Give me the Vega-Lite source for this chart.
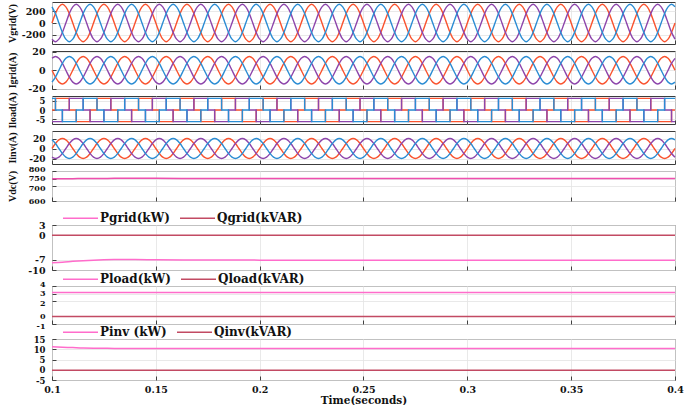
{
"$schema":"https://vega.github.io/schema/vega-lite/v6.json",
"padding":{"left":6,"top":1,"right":0,"bottom":0},
"background":"white",
"bounds":"flush",
"spacing":7,
"resolve":{"scale":{"x":"independent","y":"independent","color":"independent"}},
"config":{
 "view":{"stroke":"#3c3c3c","strokeWidth":1},
 "axis":{"labelFont":"DejaVu Serif","labelFontWeight":"bold","labelFontSize":9.5,"labelColor":"#111111","titleFont":"Liberation Serif","titleFontWeight":"bold","titleFontSize":10,"titleColor":"#111111","domain":false,"grid":true,"gridColor":"#e3e3e3","gridWidth":0.8,"ticks":true,"tickColor":"#404040","tickSize":-4,"tickWidth":1,"labelOverlap":false,"labelFlush":false,"labelPadding":11},
 "axisY":{"minExtent":34,"maxExtent":34,"titlePadding":1},
 "legend":{"orient":"none","legendX":10,"legendY":-25.5,"direction":"horizontal","symbolType":"stroke","symbolSize":1225,"symbolStrokeWidth":1.6,"labelFont":"DejaVu Serif","labelFontWeight":"bold","labelFontSize":12,"labelColor":"#111111","labelOffset":1,"columnPadding":6,"padding":0},
 "locale":{"number":{"decimal":".","thousands":",","grouping":[3],"currency":["$",""],"minus":"-"}}
},
"datasets":{
"wave":[
{"t":0.1,"va":0,"vb":-281,"vc":281,"ga":0,"gb":13,"gc":-13,"la":0,"lb":-6.3,"lc":6.3,"ia":0,"ib":-17.3,"ic":17.3},
{"t":0.10167,"va":163,"vb":-325,"vc":163,"ga":-7.5,"gb":15,"gc":-7.5,"la":6.3,"lb":-6.3,"lc":0,"ia":10,"ib":-20,"ic":10},
{"t":0.10333,"va":281,"vb":-281,"vc":0,"ga":-13,"gb":13,"gc":0,"la":6.3,"lb":-6.3,"lc":0,"ia":17.3,"ib":-17.3,"ic":0},
{"t":0.105,"va":325,"vb":-163,"vc":-163,"ga":-15,"gb":7.5,"gc":7.5,"la":6.3,"lb":0,"lc":-6.3,"ia":20,"ib":-10,"ic":-10},
{"t":0.10667,"va":281,"vb":0,"vc":-281,"ga":-13,"gb":0,"gc":13,"la":6.3,"lb":0,"lc":-6.3,"ia":17.3,"ib":0,"ic":-17.3},
{"t":0.10833,"va":163,"vb":163,"vc":-325,"ga":-7.5,"gb":-7.5,"gc":15,"la":0,"lb":6.3,"lc":-6.3,"ia":10,"ib":10,"ic":-20},
{"t":0.11,"va":0,"vb":281,"vc":-281,"ga":0,"gb":-13,"gc":13,"la":0,"lb":6.3,"lc":-6.3,"ia":0,"ib":17.3,"ic":-17.3},
{"t":0.11167,"va":-163,"vb":325,"vc":-163,"ga":7.5,"gb":-15,"gc":7.5,"la":-6.3,"lb":6.3,"lc":0,"ia":-10,"ib":20,"ic":-10},
{"t":0.11333,"va":-281,"vb":281,"vc":0,"ga":13,"gb":-13,"gc":0,"la":-6.3,"lb":6.3,"lc":0,"ia":-17.3,"ib":17.3,"ic":0},
{"t":0.115,"va":-325,"vb":163,"vc":163,"ga":15,"gb":-7.5,"gc":-7.5,"la":-6.3,"lb":0,"lc":6.3,"ia":-20,"ib":10,"ic":10},
{"t":0.11667,"va":-281,"vb":0,"vc":281,"ga":13,"gb":0,"gc":-13,"la":-6.3,"lb":0,"lc":6.3,"ia":-17.3,"ib":0,"ic":17.3},
{"t":0.11833,"va":-163,"vb":-163,"vc":325,"ga":7.5,"gb":7.5,"gc":-15,"la":0,"lb":-6.3,"lc":6.3,"ia":-10,"ib":-10,"ic":20},
{"t":0.12,"va":0,"vb":-281,"vc":281,"ga":0,"gb":13,"gc":-13,"la":0,"lb":-6.3,"lc":6.3,"ia":0,"ib":-17.3,"ic":17.3},
{"t":0.12167,"va":163,"vb":-325,"vc":163,"ga":-7.5,"gb":15,"gc":-7.5,"la":6.3,"lb":-6.3,"lc":0,"ia":10,"ib":-20,"ic":10},
{"t":0.12333,"va":281,"vb":-281,"vc":0,"ga":-13,"gb":13,"gc":0,"la":6.3,"lb":-6.3,"lc":0,"ia":17.3,"ib":-17.3,"ic":0},
{"t":0.125,"va":325,"vb":-163,"vc":-163,"ga":-15,"gb":7.5,"gc":7.5,"la":6.3,"lb":0,"lc":-6.3,"ia":20,"ib":-10,"ic":-10},
{"t":0.12667,"va":281,"vb":0,"vc":-281,"ga":-13,"gb":0,"gc":13,"la":6.3,"lb":0,"lc":-6.3,"ia":17.3,"ib":0,"ic":-17.3},
{"t":0.12833,"va":163,"vb":163,"vc":-325,"ga":-7.5,"gb":-7.5,"gc":15,"la":0,"lb":6.3,"lc":-6.3,"ia":10,"ib":10,"ic":-20},
{"t":0.13,"va":0,"vb":281,"vc":-281,"ga":0,"gb":-13,"gc":13,"la":0,"lb":6.3,"lc":-6.3,"ia":0,"ib":17.3,"ic":-17.3},
{"t":0.13167,"va":-163,"vb":325,"vc":-163,"ga":7.5,"gb":-15,"gc":7.5,"la":-6.3,"lb":6.3,"lc":0,"ia":-10,"ib":20,"ic":-10},
{"t":0.13333,"va":-281,"vb":281,"vc":0,"ga":13,"gb":-13,"gc":0,"la":-6.3,"lb":6.3,"lc":0,"ia":-17.3,"ib":17.3,"ic":0},
{"t":0.135,"va":-325,"vb":163,"vc":163,"ga":15,"gb":-7.5,"gc":-7.5,"la":-6.3,"lb":0,"lc":6.3,"ia":-20,"ib":10,"ic":10},
{"t":0.13667,"va":-281,"vb":0,"vc":281,"ga":13,"gb":0,"gc":-13,"la":-6.3,"lb":0,"lc":6.3,"ia":-17.3,"ib":0,"ic":17.3},
{"t":0.13833,"va":-163,"vb":-163,"vc":325,"ga":7.5,"gb":7.5,"gc":-15,"la":0,"lb":-6.3,"lc":6.3,"ia":-10,"ib":-10,"ic":20},
{"t":0.14,"va":0,"vb":-281,"vc":281,"ga":0,"gb":13,"gc":-13,"la":0,"lb":-6.3,"lc":6.3,"ia":0,"ib":-17.3,"ic":17.3},
{"t":0.14167,"va":163,"vb":-325,"vc":163,"ga":-7.5,"gb":15,"gc":-7.5,"la":6.3,"lb":-6.3,"lc":0,"ia":10,"ib":-20,"ic":10},
{"t":0.14333,"va":281,"vb":-281,"vc":0,"ga":-13,"gb":13,"gc":0,"la":6.3,"lb":-6.3,"lc":0,"ia":17.3,"ib":-17.3,"ic":0},
{"t":0.145,"va":325,"vb":-163,"vc":-163,"ga":-15,"gb":7.5,"gc":7.5,"la":6.3,"lb":0,"lc":-6.3,"ia":20,"ib":-10,"ic":-10},
{"t":0.14667,"va":281,"vb":0,"vc":-281,"ga":-13,"gb":0,"gc":13,"la":6.3,"lb":0,"lc":-6.3,"ia":17.3,"ib":0,"ic":-17.3},
{"t":0.14833,"va":163,"vb":163,"vc":-325,"ga":-7.5,"gb":-7.5,"gc":15,"la":0,"lb":6.3,"lc":-6.3,"ia":10,"ib":10,"ic":-20},
{"t":0.15,"va":0,"vb":281,"vc":-281,"ga":0,"gb":-13,"gc":13,"la":0,"lb":6.3,"lc":-6.3,"ia":0,"ib":17.3,"ic":-17.3},
{"t":0.15167,"va":-163,"vb":325,"vc":-163,"ga":7.5,"gb":-15,"gc":7.5,"la":-6.3,"lb":6.3,"lc":0,"ia":-10,"ib":20,"ic":-10},
{"t":0.15333,"va":-281,"vb":281,"vc":0,"ga":13,"gb":-13,"gc":0,"la":-6.3,"lb":6.3,"lc":0,"ia":-17.3,"ib":17.3,"ic":0},
{"t":0.155,"va":-325,"vb":163,"vc":163,"ga":15,"gb":-7.5,"gc":-7.5,"la":-6.3,"lb":0,"lc":6.3,"ia":-20,"ib":10,"ic":10},
{"t":0.15667,"va":-281,"vb":0,"vc":281,"ga":13,"gb":0,"gc":-13,"la":-6.3,"lb":0,"lc":6.3,"ia":-17.3,"ib":0,"ic":17.3},
{"t":0.15833,"va":-163,"vb":-163,"vc":325,"ga":7.5,"gb":7.5,"gc":-15,"la":0,"lb":-6.3,"lc":6.3,"ia":-10,"ib":-10,"ic":20},
{"t":0.16,"va":0,"vb":-281,"vc":281,"ga":0,"gb":13,"gc":-13,"la":0,"lb":-6.3,"lc":6.3,"ia":0,"ib":-17.3,"ic":17.3},
{"t":0.16167,"va":163,"vb":-325,"vc":163,"ga":-7.5,"gb":15,"gc":-7.5,"la":6.3,"lb":-6.3,"lc":0,"ia":10,"ib":-20,"ic":10},
{"t":0.16333,"va":281,"vb":-281,"vc":0,"ga":-13,"gb":13,"gc":0,"la":6.3,"lb":-6.3,"lc":0,"ia":17.3,"ib":-17.3,"ic":0},
{"t":0.165,"va":325,"vb":-163,"vc":-163,"ga":-15,"gb":7.5,"gc":7.5,"la":6.3,"lb":0,"lc":-6.3,"ia":20,"ib":-10,"ic":-10},
{"t":0.16667,"va":281,"vb":0,"vc":-281,"ga":-13,"gb":0,"gc":13,"la":6.3,"lb":0,"lc":-6.3,"ia":17.3,"ib":0,"ic":-17.3},
{"t":0.16833,"va":163,"vb":163,"vc":-325,"ga":-7.5,"gb":-7.5,"gc":15,"la":0,"lb":6.3,"lc":-6.3,"ia":10,"ib":10,"ic":-20},
{"t":0.17,"va":0,"vb":281,"vc":-281,"ga":0,"gb":-13,"gc":13,"la":0,"lb":6.3,"lc":-6.3,"ia":0,"ib":17.3,"ic":-17.3},
{"t":0.17167,"va":-163,"vb":325,"vc":-163,"ga":7.5,"gb":-15,"gc":7.5,"la":-6.3,"lb":6.3,"lc":0,"ia":-10,"ib":20,"ic":-10},
{"t":0.17333,"va":-281,"vb":281,"vc":0,"ga":13,"gb":-13,"gc":0,"la":-6.3,"lb":6.3,"lc":0,"ia":-17.3,"ib":17.3,"ic":0},
{"t":0.175,"va":-325,"vb":163,"vc":163,"ga":15,"gb":-7.5,"gc":-7.5,"la":-6.3,"lb":0,"lc":6.3,"ia":-20,"ib":10,"ic":10},
{"t":0.17667,"va":-281,"vb":0,"vc":281,"ga":13,"gb":0,"gc":-13,"la":-6.3,"lb":0,"lc":6.3,"ia":-17.3,"ib":0,"ic":17.3},
{"t":0.17833,"va":-163,"vb":-163,"vc":325,"ga":7.5,"gb":7.5,"gc":-15,"la":0,"lb":-6.3,"lc":6.3,"ia":-10,"ib":-10,"ic":20},
{"t":0.18,"va":0,"vb":-281,"vc":281,"ga":0,"gb":13,"gc":-13,"la":0,"lb":-6.3,"lc":6.3,"ia":0,"ib":-17.3,"ic":17.3},
{"t":0.18167,"va":163,"vb":-325,"vc":163,"ga":-7.5,"gb":15,"gc":-7.5,"la":6.3,"lb":-6.3,"lc":0,"ia":10,"ib":-20,"ic":10},
{"t":0.18333,"va":281,"vb":-281,"vc":0,"ga":-13,"gb":13,"gc":0,"la":6.3,"lb":-6.3,"lc":0,"ia":17.3,"ib":-17.3,"ic":0},
{"t":0.185,"va":325,"vb":-163,"vc":-163,"ga":-15,"gb":7.5,"gc":7.5,"la":6.3,"lb":0,"lc":-6.3,"ia":20,"ib":-10,"ic":-10},
{"t":0.18667,"va":281,"vb":0,"vc":-281,"ga":-13,"gb":0,"gc":13,"la":6.3,"lb":0,"lc":-6.3,"ia":17.3,"ib":0,"ic":-17.3},
{"t":0.18833,"va":163,"vb":163,"vc":-325,"ga":-7.5,"gb":-7.5,"gc":15,"la":0,"lb":6.3,"lc":-6.3,"ia":10,"ib":10,"ic":-20},
{"t":0.19,"va":0,"vb":281,"vc":-281,"ga":0,"gb":-13,"gc":13,"la":0,"lb":6.3,"lc":-6.3,"ia":0,"ib":17.3,"ic":-17.3},
{"t":0.19167,"va":-163,"vb":325,"vc":-163,"ga":7.5,"gb":-15,"gc":7.5,"la":-6.3,"lb":6.3,"lc":0,"ia":-10,"ib":20,"ic":-10},
{"t":0.19333,"va":-281,"vb":281,"vc":0,"ga":13,"gb":-13,"gc":0,"la":-6.3,"lb":6.3,"lc":0,"ia":-17.3,"ib":17.3,"ic":0},
{"t":0.195,"va":-325,"vb":163,"vc":163,"ga":15,"gb":-7.5,"gc":-7.5,"la":-6.3,"lb":0,"lc":6.3,"ia":-20,"ib":10,"ic":10},
{"t":0.19667,"va":-281,"vb":0,"vc":281,"ga":13,"gb":0,"gc":-13,"la":-6.3,"lb":0,"lc":6.3,"ia":-17.3,"ib":0,"ic":17.3},
{"t":0.19833,"va":-163,"vb":-163,"vc":325,"ga":7.5,"gb":7.5,"gc":-15,"la":0,"lb":-6.3,"lc":6.3,"ia":-10,"ib":-10,"ic":20},
{"t":0.2,"va":0,"vb":-281,"vc":281,"ga":0,"gb":13,"gc":-13,"la":0,"lb":-6.3,"lc":6.3,"ia":0,"ib":-17.3,"ic":17.3},
{"t":0.20167,"va":163,"vb":-325,"vc":163,"ga":-7.5,"gb":15,"gc":-7.5,"la":6.3,"lb":-6.3,"lc":0,"ia":10,"ib":-20,"ic":10},
{"t":0.20333,"va":281,"vb":-281,"vc":0,"ga":-13,"gb":13,"gc":0,"la":6.3,"lb":-6.3,"lc":0,"ia":17.3,"ib":-17.3,"ic":0},
{"t":0.205,"va":325,"vb":-163,"vc":-163,"ga":-15,"gb":7.5,"gc":7.5,"la":6.3,"lb":0,"lc":-6.3,"ia":20,"ib":-10,"ic":-10},
{"t":0.20667,"va":281,"vb":0,"vc":-281,"ga":-13,"gb":0,"gc":13,"la":6.3,"lb":0,"lc":-6.3,"ia":17.3,"ib":0,"ic":-17.3},
{"t":0.20833,"va":163,"vb":163,"vc":-325,"ga":-7.5,"gb":-7.5,"gc":15,"la":0,"lb":6.3,"lc":-6.3,"ia":10,"ib":10,"ic":-20},
{"t":0.21,"va":0,"vb":281,"vc":-281,"ga":0,"gb":-13,"gc":13,"la":0,"lb":6.3,"lc":-6.3,"ia":0,"ib":17.3,"ic":-17.3},
{"t":0.21167,"va":-163,"vb":325,"vc":-163,"ga":7.5,"gb":-15,"gc":7.5,"la":-6.3,"lb":6.3,"lc":0,"ia":-10,"ib":20,"ic":-10},
{"t":0.21333,"va":-281,"vb":281,"vc":0,"ga":13,"gb":-13,"gc":0,"la":-6.3,"lb":6.3,"lc":0,"ia":-17.3,"ib":17.3,"ic":0},
{"t":0.215,"va":-325,"vb":163,"vc":163,"ga":15,"gb":-7.5,"gc":-7.5,"la":-6.3,"lb":0,"lc":6.3,"ia":-20,"ib":10,"ic":10},
{"t":0.21667,"va":-281,"vb":0,"vc":281,"ga":13,"gb":0,"gc":-13,"la":-6.3,"lb":0,"lc":6.3,"ia":-17.3,"ib":0,"ic":17.3},
{"t":0.21833,"va":-163,"vb":-163,"vc":325,"ga":7.5,"gb":7.5,"gc":-15,"la":0,"lb":-6.3,"lc":6.3,"ia":-10,"ib":-10,"ic":20},
{"t":0.22,"va":0,"vb":-281,"vc":281,"ga":0,"gb":13,"gc":-13,"la":0,"lb":-6.3,"lc":6.3,"ia":0,"ib":-17.3,"ic":17.3},
{"t":0.22167,"va":163,"vb":-325,"vc":163,"ga":-7.5,"gb":15,"gc":-7.5,"la":6.3,"lb":-6.3,"lc":0,"ia":10,"ib":-20,"ic":10},
{"t":0.22333,"va":281,"vb":-281,"vc":0,"ga":-13,"gb":13,"gc":0,"la":6.3,"lb":-6.3,"lc":0,"ia":17.3,"ib":-17.3,"ic":0},
{"t":0.225,"va":325,"vb":-163,"vc":-163,"ga":-15,"gb":7.5,"gc":7.5,"la":6.3,"lb":0,"lc":-6.3,"ia":20,"ib":-10,"ic":-10},
{"t":0.22667,"va":281,"vb":0,"vc":-281,"ga":-13,"gb":0,"gc":13,"la":6.3,"lb":0,"lc":-6.3,"ia":17.3,"ib":0,"ic":-17.3},
{"t":0.22833,"va":163,"vb":163,"vc":-325,"ga":-7.5,"gb":-7.5,"gc":15,"la":0,"lb":6.3,"lc":-6.3,"ia":10,"ib":10,"ic":-20},
{"t":0.23,"va":0,"vb":281,"vc":-281,"ga":0,"gb":-13,"gc":13,"la":0,"lb":6.3,"lc":-6.3,"ia":0,"ib":17.3,"ic":-17.3},
{"t":0.23167,"va":-163,"vb":325,"vc":-163,"ga":7.5,"gb":-15,"gc":7.5,"la":-6.3,"lb":6.3,"lc":0,"ia":-10,"ib":20,"ic":-10},
{"t":0.23333,"va":-281,"vb":281,"vc":0,"ga":13,"gb":-13,"gc":0,"la":-6.3,"lb":6.3,"lc":0,"ia":-17.3,"ib":17.3,"ic":0},
{"t":0.235,"va":-325,"vb":163,"vc":163,"ga":15,"gb":-7.5,"gc":-7.5,"la":-6.3,"lb":0,"lc":6.3,"ia":-20,"ib":10,"ic":10},
{"t":0.23667,"va":-281,"vb":0,"vc":281,"ga":13,"gb":0,"gc":-13,"la":-6.3,"lb":0,"lc":6.3,"ia":-17.3,"ib":0,"ic":17.3},
{"t":0.23833,"va":-163,"vb":-163,"vc":325,"ga":7.5,"gb":7.5,"gc":-15,"la":0,"lb":-6.3,"lc":6.3,"ia":-10,"ib":-10,"ic":20},
{"t":0.24,"va":0,"vb":-281,"vc":281,"ga":0,"gb":13,"gc":-13,"la":0,"lb":-6.3,"lc":6.3,"ia":0,"ib":-17.3,"ic":17.3},
{"t":0.24167,"va":163,"vb":-325,"vc":163,"ga":-7.5,"gb":15,"gc":-7.5,"la":6.3,"lb":-6.3,"lc":0,"ia":10,"ib":-20,"ic":10},
{"t":0.24333,"va":281,"vb":-281,"vc":0,"ga":-13,"gb":13,"gc":0,"la":6.3,"lb":-6.3,"lc":0,"ia":17.3,"ib":-17.3,"ic":0},
{"t":0.245,"va":325,"vb":-163,"vc":-163,"ga":-15,"gb":7.5,"gc":7.5,"la":6.3,"lb":0,"lc":-6.3,"ia":20,"ib":-10,"ic":-10},
{"t":0.24667,"va":281,"vb":0,"vc":-281,"ga":-13,"gb":0,"gc":13,"la":6.3,"lb":0,"lc":-6.3,"ia":17.3,"ib":0,"ic":-17.3},
{"t":0.24833,"va":163,"vb":163,"vc":-325,"ga":-7.5,"gb":-7.5,"gc":15,"la":0,"lb":6.3,"lc":-6.3,"ia":10,"ib":10,"ic":-20},
{"t":0.25,"va":0,"vb":281,"vc":-281,"ga":0,"gb":-13,"gc":13,"la":0,"lb":6.3,"lc":-6.3,"ia":0,"ib":17.3,"ic":-17.3},
{"t":0.25167,"va":-163,"vb":325,"vc":-163,"ga":7.5,"gb":-15,"gc":7.5,"la":-6.3,"lb":6.3,"lc":0,"ia":-10,"ib":20,"ic":-10},
{"t":0.25333,"va":-281,"vb":281,"vc":0,"ga":13,"gb":-13,"gc":0,"la":-6.3,"lb":6.3,"lc":0,"ia":-17.3,"ib":17.3,"ic":0},
{"t":0.255,"va":-325,"vb":163,"vc":163,"ga":15,"gb":-7.5,"gc":-7.5,"la":-6.3,"lb":0,"lc":6.3,"ia":-20,"ib":10,"ic":10},
{"t":0.25667,"va":-281,"vb":0,"vc":281,"ga":13,"gb":0,"gc":-13,"la":-6.3,"lb":0,"lc":6.3,"ia":-17.3,"ib":0,"ic":17.3},
{"t":0.25833,"va":-163,"vb":-163,"vc":325,"ga":7.5,"gb":7.5,"gc":-15,"la":0,"lb":-6.3,"lc":6.3,"ia":-10,"ib":-10,"ic":20},
{"t":0.26,"va":0,"vb":-281,"vc":281,"ga":0,"gb":13,"gc":-13,"la":0,"lb":-6.3,"lc":6.3,"ia":0,"ib":-17.3,"ic":17.3},
{"t":0.26167,"va":163,"vb":-325,"vc":163,"ga":-7.5,"gb":15,"gc":-7.5,"la":6.3,"lb":-6.3,"lc":0,"ia":10,"ib":-20,"ic":10},
{"t":0.26333,"va":281,"vb":-281,"vc":0,"ga":-13,"gb":13,"gc":0,"la":6.3,"lb":-6.3,"lc":0,"ia":17.3,"ib":-17.3,"ic":0},
{"t":0.265,"va":325,"vb":-163,"vc":-163,"ga":-15,"gb":7.5,"gc":7.5,"la":6.3,"lb":0,"lc":-6.3,"ia":20,"ib":-10,"ic":-10},
{"t":0.26667,"va":281,"vb":0,"vc":-281,"ga":-13,"gb":0,"gc":13,"la":6.3,"lb":0,"lc":-6.3,"ia":17.3,"ib":0,"ic":-17.3},
{"t":0.26833,"va":163,"vb":163,"vc":-325,"ga":-7.5,"gb":-7.5,"gc":15,"la":0,"lb":6.3,"lc":-6.3,"ia":10,"ib":10,"ic":-20},
{"t":0.27,"va":0,"vb":281,"vc":-281,"ga":0,"gb":-13,"gc":13,"la":0,"lb":6.3,"lc":-6.3,"ia":0,"ib":17.3,"ic":-17.3},
{"t":0.27167,"va":-163,"vb":325,"vc":-163,"ga":7.5,"gb":-15,"gc":7.5,"la":-6.3,"lb":6.3,"lc":0,"ia":-10,"ib":20,"ic":-10},
{"t":0.27333,"va":-281,"vb":281,"vc":0,"ga":13,"gb":-13,"gc":0,"la":-6.3,"lb":6.3,"lc":0,"ia":-17.3,"ib":17.3,"ic":0},
{"t":0.275,"va":-325,"vb":163,"vc":163,"ga":15,"gb":-7.5,"gc":-7.5,"la":-6.3,"lb":0,"lc":6.3,"ia":-20,"ib":10,"ic":10},
{"t":0.27667,"va":-281,"vb":0,"vc":281,"ga":13,"gb":0,"gc":-13,"la":-6.3,"lb":0,"lc":6.3,"ia":-17.3,"ib":0,"ic":17.3},
{"t":0.27833,"va":-163,"vb":-163,"vc":325,"ga":7.5,"gb":7.5,"gc":-15,"la":0,"lb":-6.3,"lc":6.3,"ia":-10,"ib":-10,"ic":20},
{"t":0.28,"va":0,"vb":-281,"vc":281,"ga":0,"gb":13,"gc":-13,"la":0,"lb":-6.3,"lc":6.3,"ia":0,"ib":-17.3,"ic":17.3},
{"t":0.28167,"va":163,"vb":-325,"vc":163,"ga":-7.5,"gb":15,"gc":-7.5,"la":6.3,"lb":-6.3,"lc":0,"ia":10,"ib":-20,"ic":10},
{"t":0.28333,"va":281,"vb":-281,"vc":0,"ga":-13,"gb":13,"gc":0,"la":6.3,"lb":-6.3,"lc":0,"ia":17.3,"ib":-17.3,"ic":0},
{"t":0.285,"va":325,"vb":-163,"vc":-163,"ga":-15,"gb":7.5,"gc":7.5,"la":6.3,"lb":0,"lc":-6.3,"ia":20,"ib":-10,"ic":-10},
{"t":0.28667,"va":281,"vb":0,"vc":-281,"ga":-13,"gb":0,"gc":13,"la":6.3,"lb":0,"lc":-6.3,"ia":17.3,"ib":0,"ic":-17.3},
{"t":0.28833,"va":163,"vb":163,"vc":-325,"ga":-7.5,"gb":-7.5,"gc":15,"la":0,"lb":6.3,"lc":-6.3,"ia":10,"ib":10,"ic":-20},
{"t":0.29,"va":0,"vb":281,"vc":-281,"ga":0,"gb":-13,"gc":13,"la":0,"lb":6.3,"lc":-6.3,"ia":0,"ib":17.3,"ic":-17.3},
{"t":0.29167,"va":-163,"vb":325,"vc":-163,"ga":7.5,"gb":-15,"gc":7.5,"la":-6.3,"lb":6.3,"lc":0,"ia":-10,"ib":20,"ic":-10},
{"t":0.29333,"va":-281,"vb":281,"vc":0,"ga":13,"gb":-13,"gc":0,"la":-6.3,"lb":6.3,"lc":0,"ia":-17.3,"ib":17.3,"ic":0},
{"t":0.295,"va":-325,"vb":163,"vc":163,"ga":15,"gb":-7.5,"gc":-7.5,"la":-6.3,"lb":0,"lc":6.3,"ia":-20,"ib":10,"ic":10},
{"t":0.29667,"va":-281,"vb":0,"vc":281,"ga":13,"gb":0,"gc":-13,"la":-6.3,"lb":0,"lc":6.3,"ia":-17.3,"ib":0,"ic":17.3},
{"t":0.29833,"va":-163,"vb":-163,"vc":325,"ga":7.5,"gb":7.5,"gc":-15,"la":0,"lb":-6.3,"lc":6.3,"ia":-10,"ib":-10,"ic":20},
{"t":0.3,"va":0,"vb":-281,"vc":281,"ga":0,"gb":13,"gc":-13,"la":0,"lb":-6.3,"lc":6.3,"ia":0,"ib":-17.3,"ic":17.3},
{"t":0.30167,"va":163,"vb":-325,"vc":163,"ga":-7.5,"gb":15,"gc":-7.5,"la":6.3,"lb":-6.3,"lc":0,"ia":10,"ib":-20,"ic":10},
{"t":0.30333,"va":281,"vb":-281,"vc":0,"ga":-13,"gb":13,"gc":0,"la":6.3,"lb":-6.3,"lc":0,"ia":17.3,"ib":-17.3,"ic":0},
{"t":0.305,"va":325,"vb":-163,"vc":-163,"ga":-15,"gb":7.5,"gc":7.5,"la":6.3,"lb":0,"lc":-6.3,"ia":20,"ib":-10,"ic":-10},
{"t":0.30667,"va":281,"vb":0,"vc":-281,"ga":-13,"gb":0,"gc":13,"la":6.3,"lb":0,"lc":-6.3,"ia":17.3,"ib":0,"ic":-17.3},
{"t":0.30833,"va":163,"vb":163,"vc":-325,"ga":-7.5,"gb":-7.5,"gc":15,"la":0,"lb":6.3,"lc":-6.3,"ia":10,"ib":10,"ic":-20},
{"t":0.31,"va":0,"vb":281,"vc":-281,"ga":0,"gb":-13,"gc":13,"la":0,"lb":6.3,"lc":-6.3,"ia":0,"ib":17.3,"ic":-17.3},
{"t":0.31167,"va":-163,"vb":325,"vc":-163,"ga":7.5,"gb":-15,"gc":7.5,"la":-6.3,"lb":6.3,"lc":0,"ia":-10,"ib":20,"ic":-10},
{"t":0.31333,"va":-281,"vb":281,"vc":0,"ga":13,"gb":-13,"gc":0,"la":-6.3,"lb":6.3,"lc":0,"ia":-17.3,"ib":17.3,"ic":0},
{"t":0.315,"va":-325,"vb":163,"vc":163,"ga":15,"gb":-7.5,"gc":-7.5,"la":-6.3,"lb":0,"lc":6.3,"ia":-20,"ib":10,"ic":10},
{"t":0.31667,"va":-281,"vb":0,"vc":281,"ga":13,"gb":0,"gc":-13,"la":-6.3,"lb":0,"lc":6.3,"ia":-17.3,"ib":0,"ic":17.3},
{"t":0.31833,"va":-163,"vb":-163,"vc":325,"ga":7.5,"gb":7.5,"gc":-15,"la":0,"lb":-6.3,"lc":6.3,"ia":-10,"ib":-10,"ic":20},
{"t":0.32,"va":0,"vb":-281,"vc":281,"ga":0,"gb":13,"gc":-13,"la":0,"lb":-6.3,"lc":6.3,"ia":0,"ib":-17.3,"ic":17.3},
{"t":0.32167,"va":163,"vb":-325,"vc":163,"ga":-7.5,"gb":15,"gc":-7.5,"la":6.3,"lb":-6.3,"lc":0,"ia":10,"ib":-20,"ic":10},
{"t":0.32333,"va":281,"vb":-281,"vc":0,"ga":-13,"gb":13,"gc":0,"la":6.3,"lb":-6.3,"lc":0,"ia":17.3,"ib":-17.3,"ic":0},
{"t":0.325,"va":325,"vb":-163,"vc":-163,"ga":-15,"gb":7.5,"gc":7.5,"la":6.3,"lb":0,"lc":-6.3,"ia":20,"ib":-10,"ic":-10},
{"t":0.32667,"va":281,"vb":0,"vc":-281,"ga":-13,"gb":0,"gc":13,"la":6.3,"lb":0,"lc":-6.3,"ia":17.3,"ib":0,"ic":-17.3},
{"t":0.32833,"va":163,"vb":163,"vc":-325,"ga":-7.5,"gb":-7.5,"gc":15,"la":0,"lb":6.3,"lc":-6.3,"ia":10,"ib":10,"ic":-20},
{"t":0.33,"va":0,"vb":281,"vc":-281,"ga":0,"gb":-13,"gc":13,"la":0,"lb":6.3,"lc":-6.3,"ia":0,"ib":17.3,"ic":-17.3},
{"t":0.33167,"va":-163,"vb":325,"vc":-163,"ga":7.5,"gb":-15,"gc":7.5,"la":-6.3,"lb":6.3,"lc":0,"ia":-10,"ib":20,"ic":-10},
{"t":0.33333,"va":-281,"vb":281,"vc":0,"ga":13,"gb":-13,"gc":0,"la":-6.3,"lb":6.3,"lc":0,"ia":-17.3,"ib":17.3,"ic":0},
{"t":0.335,"va":-325,"vb":163,"vc":163,"ga":15,"gb":-7.5,"gc":-7.5,"la":-6.3,"lb":0,"lc":6.3,"ia":-20,"ib":10,"ic":10},
{"t":0.33667,"va":-281,"vb":0,"vc":281,"ga":13,"gb":0,"gc":-13,"la":-6.3,"lb":0,"lc":6.3,"ia":-17.3,"ib":0,"ic":17.3},
{"t":0.33833,"va":-163,"vb":-163,"vc":325,"ga":7.5,"gb":7.5,"gc":-15,"la":0,"lb":-6.3,"lc":6.3,"ia":-10,"ib":-10,"ic":20},
{"t":0.34,"va":0,"vb":-281,"vc":281,"ga":0,"gb":13,"gc":-13,"la":0,"lb":-6.3,"lc":6.3,"ia":0,"ib":-17.3,"ic":17.3},
{"t":0.34167,"va":163,"vb":-325,"vc":163,"ga":-7.5,"gb":15,"gc":-7.5,"la":6.3,"lb":-6.3,"lc":0,"ia":10,"ib":-20,"ic":10},
{"t":0.34333,"va":281,"vb":-281,"vc":0,"ga":-13,"gb":13,"gc":0,"la":6.3,"lb":-6.3,"lc":0,"ia":17.3,"ib":-17.3,"ic":0},
{"t":0.345,"va":325,"vb":-163,"vc":-163,"ga":-15,"gb":7.5,"gc":7.5,"la":6.3,"lb":0,"lc":-6.3,"ia":20,"ib":-10,"ic":-10},
{"t":0.34667,"va":281,"vb":0,"vc":-281,"ga":-13,"gb":0,"gc":13,"la":6.3,"lb":0,"lc":-6.3,"ia":17.3,"ib":0,"ic":-17.3},
{"t":0.34833,"va":163,"vb":163,"vc":-325,"ga":-7.5,"gb":-7.5,"gc":15,"la":0,"lb":6.3,"lc":-6.3,"ia":10,"ib":10,"ic":-20},
{"t":0.35,"va":0,"vb":281,"vc":-281,"ga":0,"gb":-13,"gc":13,"la":0,"lb":6.3,"lc":-6.3,"ia":0,"ib":17.3,"ic":-17.3},
{"t":0.35167,"va":-163,"vb":325,"vc":-163,"ga":7.5,"gb":-15,"gc":7.5,"la":-6.3,"lb":6.3,"lc":0,"ia":-10,"ib":20,"ic":-10},
{"t":0.35333,"va":-281,"vb":281,"vc":0,"ga":13,"gb":-13,"gc":0,"la":-6.3,"lb":6.3,"lc":0,"ia":-17.3,"ib":17.3,"ic":0},
{"t":0.355,"va":-325,"vb":163,"vc":163,"ga":15,"gb":-7.5,"gc":-7.5,"la":-6.3,"lb":0,"lc":6.3,"ia":-20,"ib":10,"ic":10},
{"t":0.35667,"va":-281,"vb":0,"vc":281,"ga":13,"gb":0,"gc":-13,"la":-6.3,"lb":0,"lc":6.3,"ia":-17.3,"ib":0,"ic":17.3},
{"t":0.35833,"va":-163,"vb":-163,"vc":325,"ga":7.5,"gb":7.5,"gc":-15,"la":0,"lb":-6.3,"lc":6.3,"ia":-10,"ib":-10,"ic":20},
{"t":0.36,"va":0,"vb":-281,"vc":281,"ga":0,"gb":13,"gc":-13,"la":0,"lb":-6.3,"lc":6.3,"ia":0,"ib":-17.3,"ic":17.3},
{"t":0.36167,"va":163,"vb":-325,"vc":163,"ga":-7.5,"gb":15,"gc":-7.5,"la":6.3,"lb":-6.3,"lc":0,"ia":10,"ib":-20,"ic":10},
{"t":0.36333,"va":281,"vb":-281,"vc":0,"ga":-13,"gb":13,"gc":0,"la":6.3,"lb":-6.3,"lc":0,"ia":17.3,"ib":-17.3,"ic":0},
{"t":0.365,"va":325,"vb":-163,"vc":-163,"ga":-15,"gb":7.5,"gc":7.5,"la":6.3,"lb":0,"lc":-6.3,"ia":20,"ib":-10,"ic":-10},
{"t":0.36667,"va":281,"vb":0,"vc":-281,"ga":-13,"gb":0,"gc":13,"la":6.3,"lb":0,"lc":-6.3,"ia":17.3,"ib":0,"ic":-17.3},
{"t":0.36833,"va":163,"vb":163,"vc":-325,"ga":-7.5,"gb":-7.5,"gc":15,"la":0,"lb":6.3,"lc":-6.3,"ia":10,"ib":10,"ic":-20},
{"t":0.37,"va":0,"vb":281,"vc":-281,"ga":0,"gb":-13,"gc":13,"la":0,"lb":6.3,"lc":-6.3,"ia":0,"ib":17.3,"ic":-17.3},
{"t":0.37167,"va":-163,"vb":325,"vc":-163,"ga":7.5,"gb":-15,"gc":7.5,"la":-6.3,"lb":6.3,"lc":0,"ia":-10,"ib":20,"ic":-10},
{"t":0.37333,"va":-281,"vb":281,"vc":0,"ga":13,"gb":-13,"gc":0,"la":-6.3,"lb":6.3,"lc":0,"ia":-17.3,"ib":17.3,"ic":0},
{"t":0.375,"va":-325,"vb":163,"vc":163,"ga":15,"gb":-7.5,"gc":-7.5,"la":-6.3,"lb":0,"lc":6.3,"ia":-20,"ib":10,"ic":10},
{"t":0.37667,"va":-281,"vb":0,"vc":281,"ga":13,"gb":0,"gc":-13,"la":-6.3,"lb":0,"lc":6.3,"ia":-17.3,"ib":0,"ic":17.3},
{"t":0.37833,"va":-163,"vb":-163,"vc":325,"ga":7.5,"gb":7.5,"gc":-15,"la":0,"lb":-6.3,"lc":6.3,"ia":-10,"ib":-10,"ic":20},
{"t":0.38,"va":0,"vb":-281,"vc":281,"ga":0,"gb":13,"gc":-13,"la":0,"lb":-6.3,"lc":6.3,"ia":0,"ib":-17.3,"ic":17.3},
{"t":0.38167,"va":163,"vb":-325,"vc":163,"ga":-7.5,"gb":15,"gc":-7.5,"la":6.3,"lb":-6.3,"lc":0,"ia":10,"ib":-20,"ic":10},
{"t":0.38333,"va":281,"vb":-281,"vc":0,"ga":-13,"gb":13,"gc":0,"la":6.3,"lb":-6.3,"lc":0,"ia":17.3,"ib":-17.3,"ic":0},
{"t":0.385,"va":325,"vb":-163,"vc":-163,"ga":-15,"gb":7.5,"gc":7.5,"la":6.3,"lb":0,"lc":-6.3,"ia":20,"ib":-10,"ic":-10},
{"t":0.38667,"va":281,"vb":0,"vc":-281,"ga":-13,"gb":0,"gc":13,"la":6.3,"lb":0,"lc":-6.3,"ia":17.3,"ib":0,"ic":-17.3},
{"t":0.38833,"va":163,"vb":163,"vc":-325,"ga":-7.5,"gb":-7.5,"gc":15,"la":0,"lb":6.3,"lc":-6.3,"ia":10,"ib":10,"ic":-20},
{"t":0.39,"va":0,"vb":281,"vc":-281,"ga":0,"gb":-13,"gc":13,"la":0,"lb":6.3,"lc":-6.3,"ia":0,"ib":17.3,"ic":-17.3},
{"t":0.39167,"va":-163,"vb":325,"vc":-163,"ga":7.5,"gb":-15,"gc":7.5,"la":-6.3,"lb":6.3,"lc":0,"ia":-10,"ib":20,"ic":-10},
{"t":0.39333,"va":-281,"vb":281,"vc":0,"ga":13,"gb":-13,"gc":0,"la":-6.3,"lb":6.3,"lc":0,"ia":-17.3,"ib":17.3,"ic":0},
{"t":0.395,"va":-325,"vb":163,"vc":163,"ga":15,"gb":-7.5,"gc":-7.5,"la":-6.3,"lb":0,"lc":6.3,"ia":-20,"ib":10,"ic":10},
{"t":0.39667,"va":-281,"vb":0,"vc":281,"ga":13,"gb":0,"gc":-13,"la":-6.3,"lb":0,"lc":6.3,"ia":-17.3,"ib":0,"ic":17.3},
{"t":0.39833,"va":-163,"vb":-163,"vc":325,"ga":7.5,"gb":7.5,"gc":-15,"la":0,"lb":-6.3,"lc":6.3,"ia":-10,"ib":-10,"ic":20},
{"t":0.4,"va":0,"vb":-281,"vc":281,"ga":0,"gb":13,"gc":-13,"la":0,"lb":-6.3,"lc":6.3,"ia":0,"ib":-17.3,"ic":17.3}
],
"power":[
{"t":0.1,"vdc":748,"pg":-7.9,"qg":0.05,"pl":3.15,"ql":0,"pi":11.2,"qi":-0.2},
{"t":0.105,"vdc":748.5,"pg":-7.75,"qg":0.05,"pl":3.15,"ql":0,"pi":11.0,"qi":-0.2},
{"t":0.11,"vdc":749,"pg":-7.5,"qg":0.05,"pl":3.15,"ql":0,"pi":10.8,"qi":-0.2},
{"t":0.115,"vdc":749.5,"pg":-7.3,"qg":0.05,"pl":3.15,"ql":0,"pi":10.6,"qi":-0.2},
{"t":0.12,"vdc":750,"pg":-7.15,"qg":0.05,"pl":3.15,"ql":0,"pi":10.5,"qi":-0.2},
{"t":0.125,"vdc":750.5,"pg":-7.05,"qg":0.05,"pl":3.15,"ql":0,"pi":10.45,"qi":-0.2},
{"t":0.13,"vdc":751,"pg":-7.0,"qg":0.05,"pl":3.15,"ql":0,"pi":10.4,"qi":-0.2},
{"t":0.14,"vdc":751,"pg":-7.0,"qg":0.05,"pl":3.15,"ql":0,"pi":10.4,"qi":-0.2},
{"t":0.15,"vdc":751,"pg":-7.05,"qg":0.05,"pl":3.15,"ql":0,"pi":10.4,"qi":-0.2},
{"t":0.175,"vdc":750.5,"pg":-7.1,"qg":0.05,"pl":3.15,"ql":0,"pi":10.4,"qi":-0.2},
{"t":0.2,"vdc":750,"pg":-7.15,"qg":0.05,"pl":3.15,"ql":0,"pi":10.4,"qi":-0.2},
{"t":0.25,"vdc":750,"pg":-7.2,"qg":0.05,"pl":3.15,"ql":0,"pi":10.4,"qi":-0.2},
{"t":0.3,"vdc":750,"pg":-7.2,"qg":0.05,"pl":3.15,"ql":0,"pi":10.4,"qi":-0.2},
{"t":0.35,"vdc":750,"pg":-7.2,"qg":0.05,"pl":3.15,"ql":0,"pi":10.4,"qi":-0.2},
{"t":0.4,"vdc":750,"pg":-7.2,"qg":0.05,"pl":3.15,"ql":0,"pi":10.4,"qi":-0.2}
]
},
"vconcat":[
{"width":623,"height":42,"data":{"name":"wave"},
 "transform":[{"fold":["va","vb","vc"],"as":["ph","val"]}],
 "mark":{"type":"line","interpolate":"catmull-rom","strokeWidth":1.4},
 "encoding":{
  "x":{"field":"t","type":"quantitative","scale":{"domain":[0.1,0.4],"nice":false,"zero":false},"axis":{"values":[0.1,0.15,0.2,0.25,0.3,0.35,0.4],"format":".2~f","labels":false,"title":null}},
  "y":{"field":"val","type":"quantitative","scale":{"domain":[-365,365],"nice":false,"zero":false},"axis":{"values":[-200,0,200],"format":".2~f","title":"Vgrid(V)"}},
  "color":{"field":"ph","type":"nominal","scale":{"domain":["va","vb","vc"],"range":["#f9532f","#8d45ab","#2b8cd3"]},"legend":null}}},
{"width":623,"height":38,"data":{"name":"wave"},
 "transform":[{"fold":["ga","gb","gc"],"as":["ph","val"]}],
 "mark":{"type":"line","interpolate":"catmull-rom","strokeWidth":1.4},
 "encoding":{
  "x":{"field":"t","type":"quantitative","scale":{"domain":[0.1,0.4],"nice":false,"zero":false},"axis":{"values":[0.1,0.15,0.2,0.25,0.3,0.35,0.4],"format":".2~f","labels":false,"title":null}},
  "y":{"field":"val","type":"quantitative","scale":{"domain":[-20.5,21],"nice":false,"zero":false},"axis":{"values":[-20,0,20],"format":".2~f","title":"Igrid(A)"}},
  "color":{"field":"ph","type":"nominal","scale":{"domain":["ga","gb","gc"],"range":["#f9532f","#8d45ab","#2b8cd3"]},"legend":null}}},
{"width":623,"height":28,"data":{"name":"wave"},
 "transform":[{"fold":["la","lb","lc"],"as":["ph","val"]}],
 "mark":{"type":"line","interpolate":"step-after","strokeWidth":1.4},
 "encoding":{
  "x":{"field":"t","type":"quantitative","scale":{"domain":[0.1,0.4],"nice":false,"zero":false},"axis":{"values":[0.1,0.15,0.2,0.25,0.3,0.35,0.4],"format":".2~f","labels":false,"title":null}},
  "y":{"field":"val","type":"quantitative","scale":{"domain":[-7.6,7.6],"nice":false,"zero":false},"axis":{"values":[-5,0,5],"format":".2~f","labelFontSize":8.5,"title":"Iload(A)"}},
  "color":{"field":"ph","type":"nominal","scale":{"domain":["la","lb","lc"],"range":["#f9532f","#8d45ab","#2b8cd3"]},"legend":null}}},
{"width":623,"height":33,"data":{"name":"wave"},
 "transform":[{"fold":["ia","ib","ic"],"as":["ph","val"]}],
 "mark":{"type":"line","interpolate":"catmull-rom","strokeWidth":1.4},
 "encoding":{
  "x":{"field":"t","type":"quantitative","scale":{"domain":[0.1,0.4],"nice":false,"zero":false},"axis":{"values":[0.1,0.15,0.2,0.25,0.3,0.35,0.4],"format":".2~f","labels":false,"title":null}},
  "y":{"field":"val","type":"quantitative","scale":{"domain":[-31,35],"nice":false,"zero":false},"axis":{"values":[-20,0,20],"format":".2~f","labelFontSize":9,"title":"Iinv(A)"}},
  "color":{"field":"ph","type":"nominal","scale":{"domain":["ia","ib","ic"],"range":["#f9532f","#8d45ab","#2b8cd3"]},"legend":null}}},
{"width":623,"height":30,"data":{"name":"power"},
 "mark":{"type":"line","interpolate":"monotone","strokeWidth":1.5,"color":"#ef4fae"},
 "encoding":{
  "x":{"field":"t","type":"quantitative","scale":{"domain":[0.1,0.4],"nice":false,"zero":false},"axis":{"values":[0.1,0.15,0.2,0.25,0.3,0.35,0.4],"format":".2~f","labels":false,"title":null}},
  "y":{"field":"vdc","type":"quantitative","scale":{"domain":[600,800],"nice":false,"zero":false},"axis":{"values":[600,700,750,800],"format":".2~f","labelFontSize":8,"labelOffset":{"condition":[{"test":"datum.value == 800","value":-2},{"test":"datum.value == 700","value":2}],"value":0},"title":"Vdc(V)"}}}},
{"width":623,"height":10,"data":{"values":[{}]},"mark":{"type":"point","opacity":0},"encoding":{},"view":{"stroke":null}},
{"width":623,"height":45,"data":{"name":"power"},
 "encoding":{"x":{"field":"t","type":"quantitative","scale":{"domain":[0.1,0.4],"nice":false,"zero":false},"axis":{"values":[0.1,0.15,0.2,0.25,0.3,0.35,0.4],"format":".2~f","labels":false,"title":null}}},
 "layer":[
  {"mark":{"type":"line","interpolate":"monotone","strokeWidth":1.5},
   "encoding":{"y":{"field":"pg","type":"quantitative","scale":{"domain":[-10,3],"nice":false,"zero":false},"axis":{"values":[-10,-7,0,3],"format":".2~f","title":null}},
    "color":{"datum":"Pgrid(kW)","type":"nominal","scale":{"domain":["Pgrid(kW)","Qgrid(kVAR)"],"range":["#ff6ccb","#c24a63"]},"legend":{"title":null}}}},
  {"mark":{"type":"line","interpolate":"monotone","strokeWidth":1.5},
   "encoding":{"y":{"field":"qg","type":"quantitative","axis":{"values":[-10,-7,0,3],"format":".2~f","title":null}},
    "color":{"datum":"Qgrid(kVAR)","type":"nominal"}}}
 ]},
{"width":623,"height":2,"data":{"values":[{}]},"mark":{"type":"point","opacity":0},"encoding":{},"view":{"stroke":null}},
{"width":623,"height":38,"data":{"name":"power"},
 "encoding":{"x":{"field":"t","type":"quantitative","scale":{"domain":[0.1,0.4],"nice":false,"zero":false},"axis":{"values":[0.1,0.15,0.2,0.25,0.3,0.35,0.4],"format":".2~f","labels":false,"title":null}}},
 "layer":[
  {"mark":{"type":"line","interpolate":"monotone","strokeWidth":1.5},
   "encoding":{"y":{"field":"pl","type":"quantitative","scale":{"domain":[-1,4],"nice":false,"zero":false},"axis":{"values":[-1,0,2,3,4],"format":".2~f","labelFontSize":8,"labelOffset":{"condition":[{"test":"datum.value == 4","value":-2},{"test":"datum.value == 2","value":2},{"test":"datum.value == -1","value":2.5}],"value":0},"title":null}},
    "color":{"datum":"Pload(kW)","type":"nominal","scale":{"domain":["Pload(kW)","Qload(kVAR)"],"range":["#ff6ccb","#c24a63"]},"legend":{"title":null}}}},
  {"mark":{"type":"line","interpolate":"monotone","strokeWidth":1.5},
   "encoding":{"y":{"field":"ql","type":"quantitative","axis":{"values":[-1,0,2,3,4],"format":".2~f","labelFontSize":8,"labelOffset":{"condition":[{"test":"datum.value == 4","value":-2},{"test":"datum.value == 2","value":2},{"test":"datum.value == -1","value":2.5}],"value":0},"title":null}},
    "color":{"datum":"Qload(kVAR)","type":"nominal"}}}
 ]},
{"width":623,"height":1,"data":{"values":[{}]},"mark":{"type":"point","opacity":0},"encoding":{},"view":{"stroke":null}},
{"width":623,"height":41,"data":{"name":"power"},
 "encoding":{"x":{"field":"t","type":"quantitative","scale":{"domain":[0.1,0.4],"nice":false,"zero":false},"axis":{"values":[0.1,0.15,0.2,0.25,0.3,0.35,0.4],"format":".2~f","labelFontSize":9.5,"labelPadding":8,"title":"Time(seconds)","titleFont":"DejaVu Serif","titleFontSize":10.5,"titlePadding":2}}},
 "layer":[
  {"mark":{"type":"line","interpolate":"monotone","strokeWidth":1.5},
   "encoding":{"y":{"field":"pi","type":"quantitative","scale":{"domain":[-5,15],"nice":false,"zero":false},"axis":{"values":[-5,0,5,10,15],"format":".2~f","labelFontSize":8.5,"title":null}},
    "color":{"datum":"Pinv (kW)","type":"nominal","scale":{"domain":["Pinv (kW)","Qinv(kVAR)"],"range":["#ff6ccb","#c24a63"]},"legend":{"title":null}}}},
  {"mark":{"type":"line","interpolate":"monotone","strokeWidth":1.5},
   "encoding":{"y":{"field":"qi","type":"quantitative","axis":{"values":[-5,0,5,10,15],"format":".2~f","labelFontSize":8.5,"title":null}},
    "color":{"datum":"Qinv(kVAR)","type":"nominal"}}}
 ]}
]
}
